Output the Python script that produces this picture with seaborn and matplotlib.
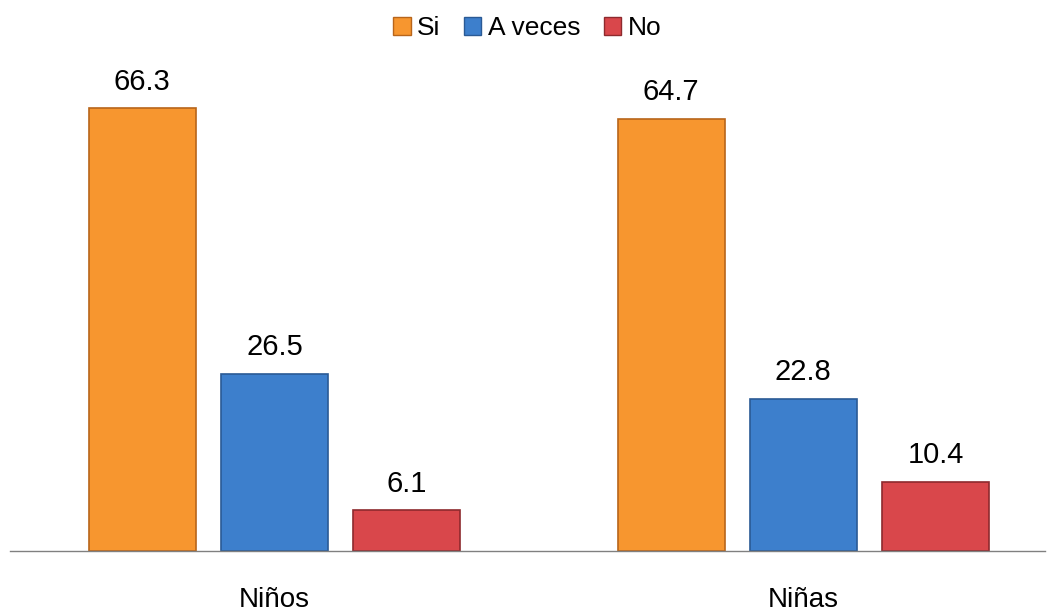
import matplotlib
matplotlib.use('Agg')
import matplotlib.pyplot as plt
import seaborn as sns
import pandas as pd

groups = ["Niños", "Niñas"]
answers = ["Si", "A veces", "No"]
ninos = [66.3, 26.5, 6.1]
ninas = [64.7, 22.8, 10.4]
colors = ["#F7962F", "#3D7FCC", "#D9474B"]
edges = ["#B8651A", "#2A5A95", "#8E2A2E"]

df = pd.DataFrame({
    "grupo": [groups[0]] * 3 + [groups[1]] * 3,
    "respuesta": answers * 2,
    "valor": ninos + ninas,
})

sns.set_style("white")
plt.rcParams['font.family'] = ['Liberation Sans', 'DejaVu Sans']
plt.rcParams['text.color'] = 'black'
plt.rcParams['xtick.color'] = 'black'

fig = plt.figure(figsize=(10.55, 6.13), dpi=100)
ax = fig.add_axes([10 / 1055, 62 / 613, 1035 / 1055, 491 / 613])

sns.barplot(data=df, x="grupo", y="valor", hue="respuesta", hue_order=answers,
            palette=colors, saturation=1, width=0.75, gap=0.19, ax=ax, legend=False)

for bars, ec in zip(ax.containers, edges):
    for b in bars:
        b.set_edgecolor(ec)
        b.set_linewidth(1.2)
    ax.bar_label(bars, fmt="%.1f", padding=9, fontsize=21, color="black")

ax.set_ylim(0, 73.5)
ax.set_xlim(-0.5, 1.457)
ax.set_yticks([])
ax.set_xlabel("")
ax.set_ylabel("")
for s in ["top", "right", "left"]:
    ax.spines[s].set_visible(False)
ax.spines["bottom"].set_color("#808080")
ax.spines["bottom"].set_linewidth(1)
ax.tick_params(axis="x", length=0, pad=26, labelsize=20, labelcolor="black")

handles = [plt.Rectangle((0, 0), 1, 1, facecolor=c, edgecolor=e) for c, e in zip(colors, edges)]
fig.legend(handles, answers, loc="center", bbox_to_anchor=(0.5, 1 - 28 / 613),
           ncol=3, frameon=False, fontsize=19, handlelength=0.65, handleheight=0.65,
           handletextpad=0.25, columnspacing=0.9)

fig.savefig("out.png", dpi=100)
